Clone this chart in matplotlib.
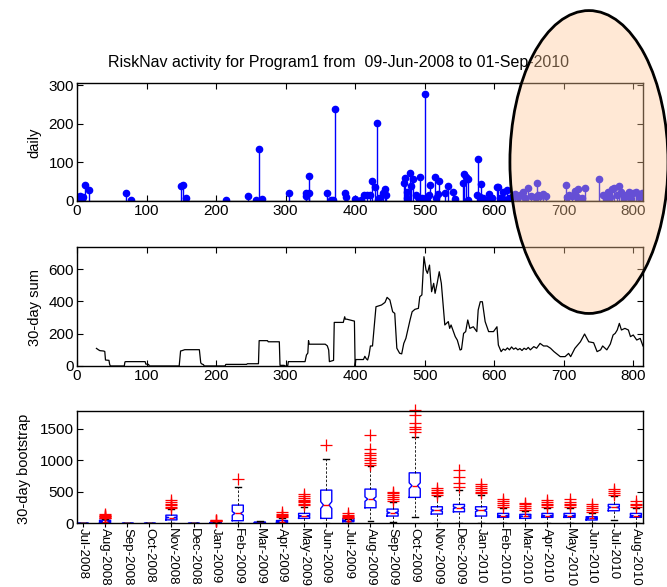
import matplotlib
matplotlib.use("Agg")
import matplotlib.pyplot as plt
from matplotlib.patches import Ellipse

plt.rcParams['font.family'] = ['Liberation Sans', 'DejaVu Sans']
plt.rcParams['font.size'] = 11

# daily activity (day index, count)
days = [0, 2, 4, 6, 8, 12, 17, 70, 77, 149, 152, 157, 215, 246, 257, 262, 266,
        305, 329, 330, 333, 334, 359, 365, 368, 371, 385, 387, 400, 409, 413,
        417, 421, 425, 429, 431, 433, 435, 440, 443, 445,
        470, 472, 474, 475, 479, 481, 483, 487, 490, 494, 496, 500, 503, 506,
        508, 515, 516, 519, 521, 529, 534, 541, 543, 555, 557, 560, 562, 563,
        576, 577, 579, 581, 584, 592, 593, 597, 604, 605, 608, 611, 613, 614,
        618, 622, 625,
        630, 634, 637, 642, 645, 649, 653, 658, 661, 663, 666, 670, 675,
        703, 705, 708, 712, 716, 719, 721, 726, 731,
        751, 757, 761, 764, 767, 770, 773, 776, 779, 782, 786, 790, 794, 797,
        800, 804, 808, 812]
daily = [10, 8, 12, 9, 11, 41, 28, 22, 2, 39, 42, 9, 2, 13, 2, 134, 6,
         22, 22, 12, 66, 20, 20, 2, 2, 238, 22, 11, 6, 2, 15,
         15, 15, 52, 35, 201, 3, 7, 20, 31, 15,
         46, 59, 24, 7, 73, 39, 56, 15, 11, 63, 7, 277, 11, 15,
         41, 63, 7, 19, 52, 22, 39, 24, 5, 46, 70, 63, 2, 56,
         15, 110, 11, 43, 7, 18, 5, 7, 37, 35, 7, 7, 24, 3,
         28, 7, 11,
         18, 10, 15, 24, 8, 33, 12, 10, 47, 15, 12, 18, 12,
         41, 10, 15, 12, 26, 10, 31, 8, 33,
         56, 15, 8, 24, 10, 30, 33, 15, 39, 24, 7, 15, 24, 5,
         22, 24, 10, 20]

# 30-day rolling sum (day index, value)
sum_days = [28, 31, 33, 38, 40, 41, 46, 47, 48, 68, 69, 70, 98, 99, 103, 104,
            147, 149, 151, 155, 176, 178, 179, 182, 183, 213, 214, 244, 245,
            261, 262, 274, 275, 291, 292, 298, 299, 303, 304, 328, 330, 332,
            333, 334, 357, 360, 362, 363, 369, 370, 383, 385, 386, 388, 399,
            400, 401, 412, 414, 416, 418, 420, 422, 425, 430, 438, 443, 446,
            450, 454, 457, 460, 464, 467, 470, 473, 479, 482, 486, 491, 493,
            496, 499, 502, 504, 507, 510, 513, 515, 518, 521, 524, 529, 534,
            536, 538, 544, 547, 551, 553, 556, 559, 562, 565, 570, 575, 577,
            580, 583, 587, 592, 599, 604, 606, 610, 613, 616, 619, 622, 625,
            628, 631, 634, 637, 640, 643, 646, 649, 652, 657, 661, 666, 671,
            676, 681, 686, 690, 695, 702, 707, 710, 716, 724, 730, 736, 743,
            748, 753, 756, 762, 767, 771, 774, 777, 780, 783, 788, 793, 796,
            800, 805, 810, 814]
sum30 = [109, 100, 95, 93, 90, 37, 35, 10, 0, 0, 25, 27, 27, 12, 10, 0,
         0, 93, 95, 101, 101, 20, 14, 8, 0, 0, 10, 10, 14,
         14, 157, 157, 150, 150, 4, 4, 0, 0, 27, 27, 68, 80,
         157, 135, 135, 125, 99, 27, 35, 270, 270, 305, 290, 290, 278,
         0, 40, 40, 60, 45, 37, 68, 124, 124, 367, 378, 394, 425,
         409, 336, 326, 110, 79, 75, 140, 171, 285, 336, 351, 357, 429,
         440, 677, 594, 574, 625, 460, 512, 450, 512, 584, 512, 254, 275,
         233, 254, 182, 160, 99, 103, 202, 213, 285, 233, 243, 213, 347,
         398, 398, 275, 213, 213, 243, 130, 89, 105, 98, 112, 100, 118,
         104, 112, 100, 108, 96, 110, 102, 115, 100, 120, 110, 140, 124,
         124, 110, 89, 75, 58, 58, 78, 58, 109, 150, 198, 150, 144,
         89, 100, 124, 100, 136, 192, 202, 223, 264, 223, 233, 223, 182,
         192, 161, 171, 124]

# monthly bootstrap boxes
months = ['Jul-2008', 'Aug-2008', 'Sep-2008', 'Oct-2008', 'Nov-2008', 'Dec-2008',
          'Jan-2009', 'Feb-2009', 'Mar-2009', 'Apr-2009', 'May-2009', 'Jun-2009',
          'Jul-2009', 'Aug-2009', 'Sep-2009', 'Oct-2009', 'Nov-2009', 'Dec-2009',
          'Jan-2010', 'Feb-2010', 'Mar-2010', 'Apr-2010', 'May-2010', 'Jun-2010',
          'Jul-2010', 'Aug-2010']
q1 = [0, 5, 0, 0, 50, 0, 2, 37, 0, 3, 74, 74, 21, 243, 111, 408, 143, 179,
      111, 90, 74, 90, 90, 48, 195, 90]
med = [0, 20, 0, 0, 87, 0, 5, 153, 5, 15, 111, 286, 40, 381, 164, 593, 200,
       244, 200, 117, 106, 117, 117, 74, 249, 117]
q3 = [0, 45, 0, 0, 125, 0, 10, 285, 15, 40, 153, 524, 74, 540, 222, 799, 259,
      296, 259, 153, 138, 153, 153, 100, 296, 153]
whis_lo = [0, 0, 0, 0, 0, 0, 0, 5, 0, 0, 7, 0, 0, 32, 10, 100, 0, 0, 0, 0, 0,
           0, 0, 0, 48, 0]
whis_hi = [0, 70, 0, 0, 230, 0, 20, 566, 30, 80, 259, 1026, 70, 900, 339, 1370,
           433, 524, 444, 233, 195, 233, 240, 164, 428, 233]
fliers = [[], [75, 85, 95, 105, 115, 130, 150], [], [], [240, 260, 280, 300, 330, 360],
          [], [25, 35, 45, 55], [693], [], [100, 115, 130, 150, 170],
          [290, 310, 330, 350, 370, 400, 430, 460], [1248], [80, 95, 110, 130, 153],
          [920, 960, 1000, 1040, 1080, 1120, 1185, 1408], [350, 380, 410, 440, 470, 500],
          [1455, 1500, 1534, 1587, 1720, 1800], [440, 470, 500, 530, 550],
          [577, 630, 725, 841], [470, 500, 530, 560, 590, 620], [260, 290, 320, 350, 390],
          [215, 240, 270, 300, 320], [250, 280, 310, 340, 370], [250, 280, 310, 340, 380],
          [180, 210, 240, 270, 300], [450, 480, 510, 540], [250, 280, 310, 350]]

fig = plt.figure(figsize=(6.67, 5.87), dpi=100)
ax1 = fig.add_axes([0.1154, 0.6576, 0.8486, 0.201])
ax2 = fig.add_axes([0.1154, 0.3765, 0.8486, 0.2027])
ax3 = fig.add_axes([0.1154, 0.109, 0.8486, 0.1908])

for ax in (ax1, ax2, ax3):
    ax.tick_params(direction='in', length=4, width=0.8, top=True, right=True,
                   pad=2, labelsize=11)
    for s in ax.spines.values():
        s.set_linewidth(1.0)

# daily stems
mk, st, bl = ax1.stem(days, daily, linefmt='b-', markerfmt='bo', basefmt='k-')
mk.set_markersize(4.5)
st.set_linewidth(1)
bl.set_linewidth(1)
ax1.set_xlim(0, 814)
ax1.set_ylim(0, 306)
ax1.set_xticks(range(0, 801, 100))
ax1.set_yticks([0, 100, 200, 300])

# 30-day sum
ax2.plot(sum_days, sum30, color='k', lw=0.9)
ax2.set_xlim(0, 814)
ax2.set_ylim(0, 737)
ax2.set_xticks(range(0, 801, 100))
ax2.set_yticks([0, 200, 400, 600])

# bootstrap boxes
stats = []
for i in range(len(months)):
    iqr = q3[i] - q1[i]
    stats.append(dict(med=med[i], q1=q1[i], q3=q3[i], whislo=whis_lo[i],
                      whishi=whis_hi[i], fliers=fliers[i],
                      cilo=med[i] - 0.12 * iqr, cihi=med[i] + 0.12 * iqr))
pos = list(range(1, len(months) + 1))
ax3.bxp(stats, positions=pos, widths=0.5, capwidths=0.27, shownotches=True,
        boxprops=dict(color='b', lw=1),
        medianprops=dict(color='r', lw=1),
        whiskerprops=dict(color='k', lw=0.6, linestyle=(0, (3, 2))),
        capprops=dict(color='k', lw=1),
        flierprops=dict(marker='+', markeredgecolor='r', markersize=8,
                        markeredgewidth=0.9, linestyle='none', clip_on=False))
ax3.set_xlim(0.73, 26.32)
ax3.set_ylim(0, 1783)
ax3.set_yticks([0, 500, 1000, 1500])
ax3.set_xticks(pos)
ax3.set_xticklabels(months, rotation=-90, fontsize=9.5)
ax3.tick_params(axis='x', direction='out', top=False, length=3, pad=0.5)

fig.text(0.507, 0.893, 'RiskNav activity for Program1 from  09-Jun-2008 to 01-Sep-2010',
         ha='center', va='center', fontsize=11.5)
fig.text(0.052, 0.756, 'daily', rotation=90, ha='center', va='center', fontsize=10.5)
fig.text(0.052, 0.477, '30-day sum', rotation=90, ha='center', va='center', fontsize=10.5)
fig.text(0.036, 0.201, '30-day bootstrap', rotation=90, ha='center', va='center', fontsize=10.5)

# highlight ellipse over the last months
ell = Ellipse((0.883, 0.724), 0.237, 0.516, transform=fig.transFigure,
              facecolor=(1.0, 0.78, 0.59, 0.4), edgecolor='k', lw=2, zorder=10)
fig.add_artist(ell)

fig.savefig('out.png', dpi=100)
